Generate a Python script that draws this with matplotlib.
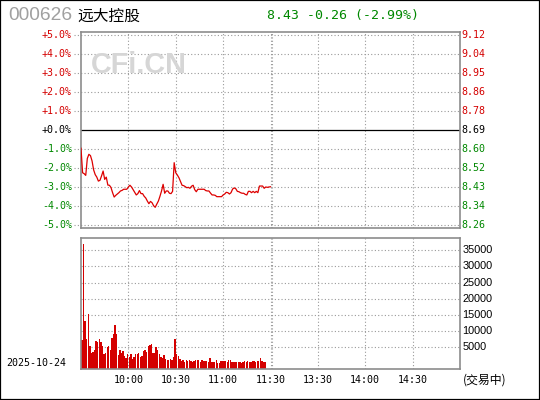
import numpy as np
import matplotlib
matplotlib.use('Agg')
import matplotlib.pyplot as plt
from matplotlib.patches import Rectangle

# ---------------- data ----------------
code = '000626'
name = '远大控股'
quote = '8.43 -0.26 (-2.99%)'
date_label = '2025-10-24'
status = '(交易中)'
watermark = 'CFi.CN'

pct_ticks = [5, 4, 3, 2, 1, 0, -1, -2, -3, -4, -5]
pct_labels = ['+5.0%', '+4.0%', '+3.0%', '+2.0%', '+1.0%', '+0.0%',
              '-1.0%', '-2.0%', '-3.0%', '-4.0%', '-5.0%']
price_labels = ['9.12', '9.04', '8.95', '8.86', '8.78', '8.69',
                '8.60', '8.52', '8.43', '8.34', '8.26']
vol_ticks = [35000, 30000, 25000, 20000, 15000, 10000, 5000]
time_ticks = [30, 60, 90, 120, 150, 180, 210]
time_labels = ['10:00', '10:30', '11:00', '11:30', '13:30', '14:00', '14:30']

# percent change vs previous close, one value per minute from 9:30
pct_series = [
    -0.96, -2.25, -2.30, -2.39, -1.50, -1.28, -1.35, -1.63, -2.10, -2.35,
    -2.48, -2.69, -2.65, -2.42, -2.16, -2.60, -2.48, -2.90, -2.91, -3.03,
    -3.30, -3.53, -3.44, -3.37, -3.30, -3.21, -3.18, -3.12, -3.12, -3.12,
    -3.00, -2.91, -3.00, -3.14, -3.28, -3.42, -3.35, -3.19, -3.35, -3.35,
    -3.49, -3.58, -3.74, -3.88, -3.76, -3.83, -3.99, -4.07, -3.90, -3.74,
    -3.49, -3.21, -2.86, -3.33, -3.21, -3.21, -3.33, -3.35, -3.23, -1.72,
    -2.25, -2.37, -2.51, -2.71, -2.91, -2.93, -2.98, -3.04, -3.02, -3.07,
    -2.96, -2.91, -3.14, -3.25, -3.12, -3.12, -3.12, -3.12, -3.12, -3.19,
    -3.21, -3.21, -3.32, -3.42, -3.42, -3.44, -3.51, -3.51, -3.51, -3.51,
    -3.42, -3.37, -3.28, -3.30, -3.37, -3.30, -3.11, -3.05, -3.09, -3.23,
    -3.25, -3.30, -3.33, -3.33, -3.39, -3.42, -3.23, -3.23, -3.30, -3.23,
    -3.30, -3.23, -3.30, -2.95, -2.95, -2.95, -3.07, -3.00, -3.02, -3.00,
    -2.99,
]

# per-minute volume
volume = [
    7270, 36950, 13140, 7575, 15300, 5410, 3250, 3560, 4170, 6960,
    6650, 7575, 6650, 5410, 3030, 3250, 5100, 5410, 4270, 7880,
    9120, 11900, 9120, 2630, 4170, 3150, 3870, 2320, 1700, 2940,
    1910, 2940, 1390, 2010, 2940, 2940, 3250, 2010, 2320, 3870,
    4170, 3560, 5410, 5720, 6030, 3250, 3250, 5100, 4170, 2940,
    2010, 1700, 2630, 1390, 1080, 1080, 1390, 1080, 2010, 7575,
    2940, 2320, 1390, 770, 1080, 460, 1080, 770, 1080, 770,
    460, 770, 1080, 1080, 1080, 460, 1080, 770, 770, 770,
    460, 1700, 460, 460, 460, 1080, 150, 150, 770, 770,
    770, 770, 460, 1080, 1080, 460, 460, 460, 460, 460,
    460, 150, 460, 770, 460, 770, 460, 460, 770, 770,
    460, 770, 770, 1700, 770, 460, 460,
]

# ---------------- style ----------------
RED = '#d40000'
GREEN = '#008800'
GRID = '#9a9a9a'
SPINE = '#8c8c8c'
MONO = ['DejaVu Sans Mono']
CJK = ['Noto Sans CJK SC', 'DejaVu Sans']
DOT = (0, (1, 2))

W, H = 540, 400
fig = plt.figure(figsize=(W / 100, H / 100), dpi=100)
fig.patch.set_facecolor('white')


def fx(px):
    return px / W


def fy(py):
    return 1 - py / H


ax_p = fig.add_axes([fx(81), fy(228), (460 - 81) / W, (228 - 32) / H])
ax_v = fig.add_axes([fx(81), fy(369), (460 - 81) / W, (369 - 238) / H])

for ax in (ax_p, ax_v):
    ax.set_xlim(0, 240)
    ax.set_yticks([])
    ax.tick_params(length=0)
    for s in ax.spines.values():
        s.set_color(SPINE)
        s.set_linewidth(1.2)
    for t in time_ticks:
        ax.axvline(t, color=GRID, lw=0.8, ls=DOT, zorder=1)
    ax.axvline(121.1, color=GRID, lw=0.8, ls=DOT, zorder=1)

# ---------------- price panel ----------------
ax_p.set_ylim(-5.16, 5.16)
ax_p.set_xticks([])
ytr = ax_p.get_yaxis_transform()
for v, lab, plab in zip(pct_ticks, pct_labels, price_labels):
    col = RED if v > 0 else (GREEN if v < 0 else 'black')
    if v == 0:
        ax_p.plot([0, 1], [v, v], transform=ytr, color='black', lw=0.9, zorder=2)
    else:
        ax_p.plot([-0.018, 1], [v, v], transform=ytr, color=GRID, lw=0.8,
                  ls=DOT, clip_on=False, zorder=1)
    ax_p.text(-0.024, v, lab, transform=ytr, ha='right', va='center',
              color=col, fontsize=7.2, family=MONO)
    ax_p.text(1.004, v, plab, transform=ytr, ha='left', va='center',
              color=col, fontsize=7.2, family=MONO)

minutes = np.arange(len(pct_series))
ax_p.plot(minutes, pct_series, color='#dd0000', lw=0.9, zorder=3)

# ---------------- volume panel ----------------
vmin, vmax = -1700, 38800
ax_v.set_ylim(vmin, vmax)
vtr = ax_v.get_yaxis_transform()
for v in vol_ticks:
    ax_v.plot([0, 1], [v, v], transform=vtr, color=GRID, lw=0.8, ls=DOT, zorder=1)
    ax_v.text(1.007, v, str(v), transform=vtr, ha='left', va='center',
              color='black', fontsize=7.8, family=['Liberation Sans'])

vx = np.arange(len(volume)) + 0.6
vol = np.array(volume)
ax_v.bar(vx, vol - vmin, bottom=vmin, width=0.85, color='#d40000',
         linewidth=0, zorder=2, antialiased=False)

ax_v.set_xticks(time_ticks)
ax_v.set_xticklabels(time_labels, family=MONO, fontsize=7.2)
ax_v.tick_params(axis='x', pad=4.3, length=0)

# ---------------- header & misc text ----------------
fig.text(fx(8), fy(16), code, color='#a0a0a0', fontsize=13.8,
         family=['Liberation Sans'], ha='left', va='center')
fig.text(fx(77), fy(16), name, color='black', fontsize=11.3,
         family=CJK, ha='left', va='center')
fig.text(fx(267), fy(15.5), quote, color=GREEN, fontsize=9.5,
         family=MONO, ha='left', va='center')
fig.text(fx(6), fy(363.5), date_label, color='black', fontsize=7.2,
         family=MONO, ha='left', va='center')
fig.text(fx(463), fy(380), status, color='black', fontsize=8.6,
         family=CJK, ha='left', va='center')
fig.text(fx(91), fy(65), watermark, color='#d6d6d6', fontsize=20.8,
         family=['Liberation Sans'], fontweight='bold', ha='left', va='center',
         zorder=0)

fig.patches.append(Rectangle((0, 0), 1, 1, transform=fig.transFigure,
                             fill=False, edgecolor='black', lw=1.6))

fig.savefig('out.png', dpi=100)
